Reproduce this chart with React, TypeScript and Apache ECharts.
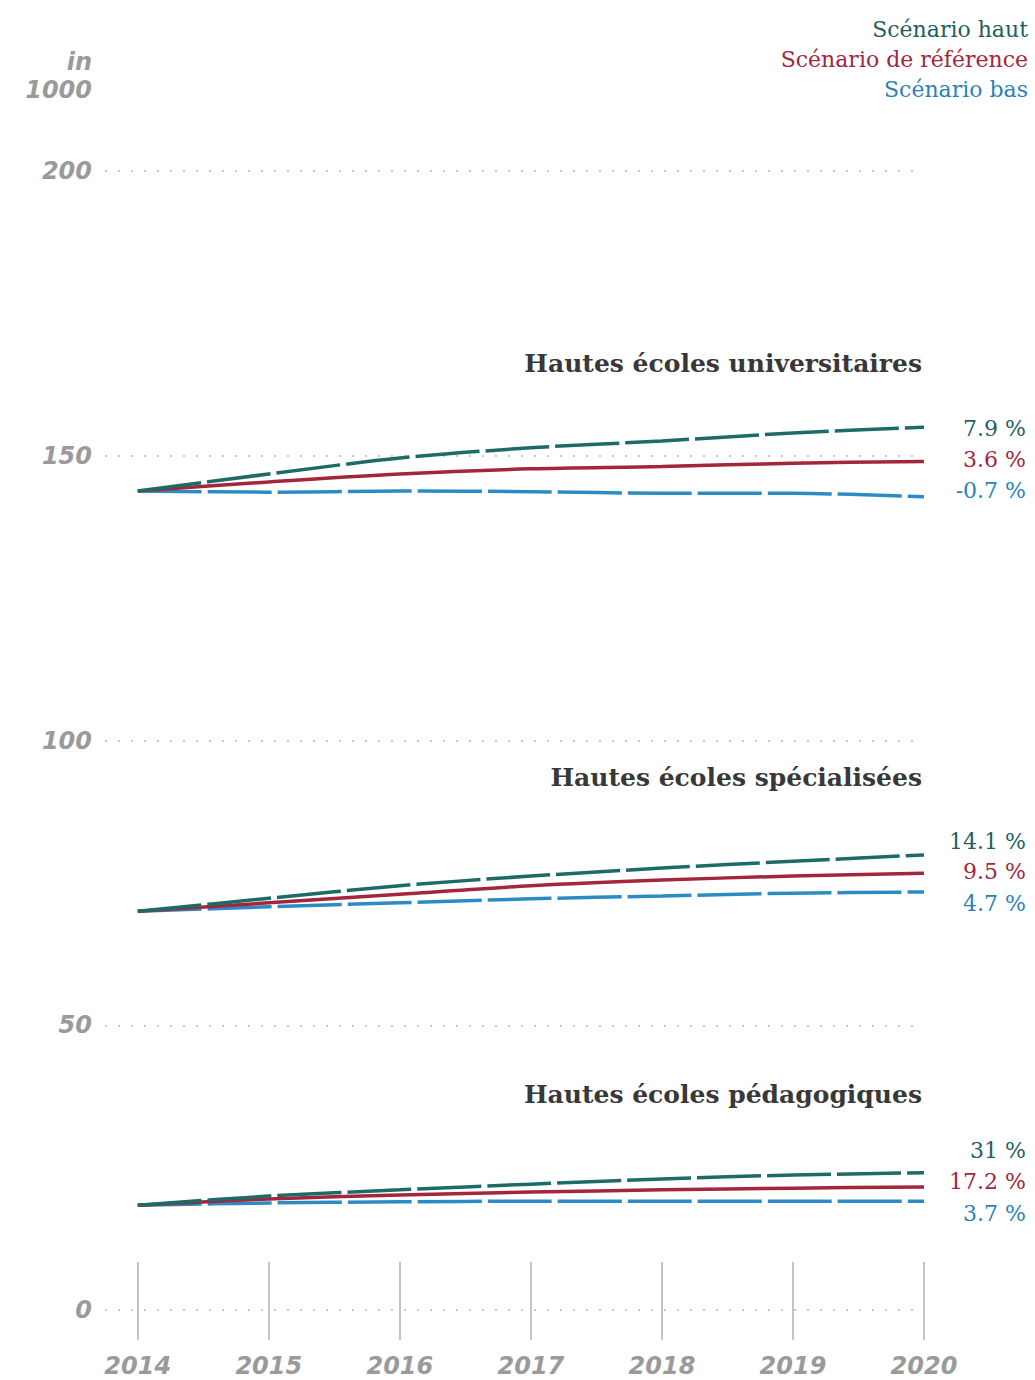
import React, { useEffect, useRef } from "react";
import * as echarts from "echarts";

const years = [2014, 2015, 2016, 2017, 2018, 2019, 2020];
const yearLabels = ["2014", "2015", "2016", "2017", "2018", "2019", "2020"];
const yTicks = [0, 50, 100, 150, 200];

const scenarioNames = ["Scénario haut", "Scénario de référence", "Scénario bas"];
const scenarioColors = ["#1d6b66", "#a3263c", "#2b8cc4"];
const labelColors = ["#1f5f63", "#a3263c", "#2a82ba"];

// Hautes écoles universitaires (in 1000)
const heuHaut = [143.8, 146.8, 149.6, 151.4, 152.6, 154.0, 155.0];
const heuRef = [143.8, 145.4, 146.8, 147.7, 148.1, 148.7, 149.0];
const heuBas = [143.8, 143.6, 143.8, 143.7, 143.4, 143.4, 142.8];
// Hautes écoles spécialisées
const hesHaut = [70.0, 72.3, 74.5, 76.2, 77.6, 78.8, 79.9];
const hesRef = [70.0, 71.5, 73.0, 74.5, 75.5, 76.2, 76.7];
const hesBas = [70.0, 70.8, 71.5, 72.2, 72.7, 73.2, 73.4];
// Hautes écoles pédagogiques
const hepHaut = [18.4, 20.0, 21.1, 22.1, 23.0, 23.7, 24.1];
const hepRef = [18.4, 19.5, 20.2, 20.7, 21.1, 21.4, 21.6];
const hepBas = [18.4, 18.8, 19.0, 19.1, 19.1, 19.1, 19.1];

const groupTitles = [
  "Hautes écoles universitaires",
  "Hautes écoles spécialisées",
  "Hautes écoles pédagogiques",
];
const heuPct = ["7.9 %", "3.6 %", "-0.7 %"];
const hesPct = ["14.1 %", "9.5 %", "4.7 %"];
const hepPct = ["31 %", "17.2 %", "3.7 %"];

const groups = [
  { values: [heuHaut, heuRef, heuBas], pct: heuPct, titleY: 367, pctY: [430, 461, 492] },
  { values: [hesHaut, hesRef, hesBas], pct: hesPct, titleY: 781, pctY: [843, 873, 905] },
  { values: [hepHaut, hepRef, hepBas], pct: hepPct, titleY: 1098, pctY: [1152, 1183, 1215] },
];

const tickFont = {
  fontFamily: "DejaVu Sans",
  fontWeight: "bold" as const,
  fontStyle: "italic" as const,
  fontSize: 24,
  color: "#9a9a9a",
};

export default function App() {
  const ref = useRef<HTMLDivElement>(null);
  useEffect(() => {
    if (!ref.current) return;
    const chart = echarts.init(ref.current, null, { renderer: "svg" });

    const series: any[] = [];
    groups.forEach((g) => {
      g.values.forEach((vals, i) => {
        series.push({
          type: "line",
          name: scenarioNames[i],
          xAxisIndex: 0,
          data: years.map((y, k) => [y, vals[k]]),
          showSymbol: false,
          smooth: 0.3,
          z: 5 - i,
          lineStyle: {
            color: scenarioColors[i],
            width: 3.5,
            type: i === 1 ? "solid" : [64, 6],
          },
          itemStyle: { color: scenarioColors[i] },
        });
      });
    });

    const graphics: any[] = [];
    groups.forEach((g, gi) => {
      graphics.push({
        type: "text",
        right: 1035 - 922,
        top: g.titleY - 16,
        style: {
          text: groupTitles[gi],
          fontFamily: "DejaVu Serif",
          fontWeight: "bold",
          fontSize: 25,
          fill: "#383838",
        },
      });
      g.pct.forEach((p, i) => {
        graphics.push({
          type: "text",
          right: 1035 - 1026,
          top: g.pctY[i] - 13,
          style: {
            text: p,
            fontFamily: "DejaVu Serif",
            fontSize: 22,
            fill: labelColors[i],
          },
        });
      });
    });

    const tickLine = { color: "#c4c4c4", width: 2 };

    chart.setOption({
      animation: false,
      backgroundColor: "#ffffff",
      grid: { left: 105, right: 1035 - 924, top: 171, bottom: 1380 - 1310 },
      legend: {
        show: true,
        orient: "vertical",
        right: -3,
        top: 13,
        align: "right",
        icon: "none",
        itemWidth: 0,
        itemHeight: 10,
        itemGap: 8,
        selectedMode: false,
        textStyle: { fontFamily: "DejaVu Serif", fontSize: 22 },
        data: scenarioNames.map((n, i) => ({
          name: n,
          textStyle: { color: labelColors[i], fontFamily: "DejaVu Serif", fontSize: 22 },
        })),
      },
      xAxis: [
        {
          type: "value",
          min: 2013.75,
          max: 2020,
          position: "bottom",
          axisLine: { show: false },
          splitLine: { show: false },
          axisTick: {
            show: true,
            inside: true,
            length: 48,
            customValues: years,
            lineStyle: tickLine,
          },
          axisLabel: { show: false },
        },
        {
          type: "value",
          min: 2013.75,
          max: 2020,
          position: "bottom",
          axisLine: { show: false },
          splitLine: { show: false },
          axisTick: {
            show: true,
            inside: false,
            length: 30,
            customValues: years,
            lineStyle: tickLine,
          },
          axisLabel: {
            customValues: years,
            margin: 44,
            formatter: (v: number) => yearLabels[years.indexOf(Math.round(v))] ?? "",
            ...tickFont,
          },
        },
      ],
      yAxis: {
        type: "value",
        min: 0,
        max: 200,
        interval: 50,
        name: "in\n1000",
        nameLocation: "end",
        nameGap: 67,
        nameTextStyle: {
          ...tickFont,
          align: "right",
          verticalAlign: "bottom",
          lineHeight: 28,
          padding: [0, 13, 0, 0],
        },
        axisLine: { show: false },
        axisTick: { show: false },
        axisLabel: {
          margin: 13,
          formatter: (v: number) => (yTicks.includes(v) ? String(v) : ""),
          ...tickFont,
        },
        splitLine: {
          show: true,
          lineStyle: { color: "#c8c8c8", width: 2, type: [2, 11] },
        },
      },
      graphic: graphics,
      series,
    });

    return () => chart.dispose();
  }, []);

  return (
    <div
      ref={ref}
      style={{ position: "absolute", left: 0, top: 0, width: 1035, height: 1380, background: "#fff" }}
    />
  );
}
